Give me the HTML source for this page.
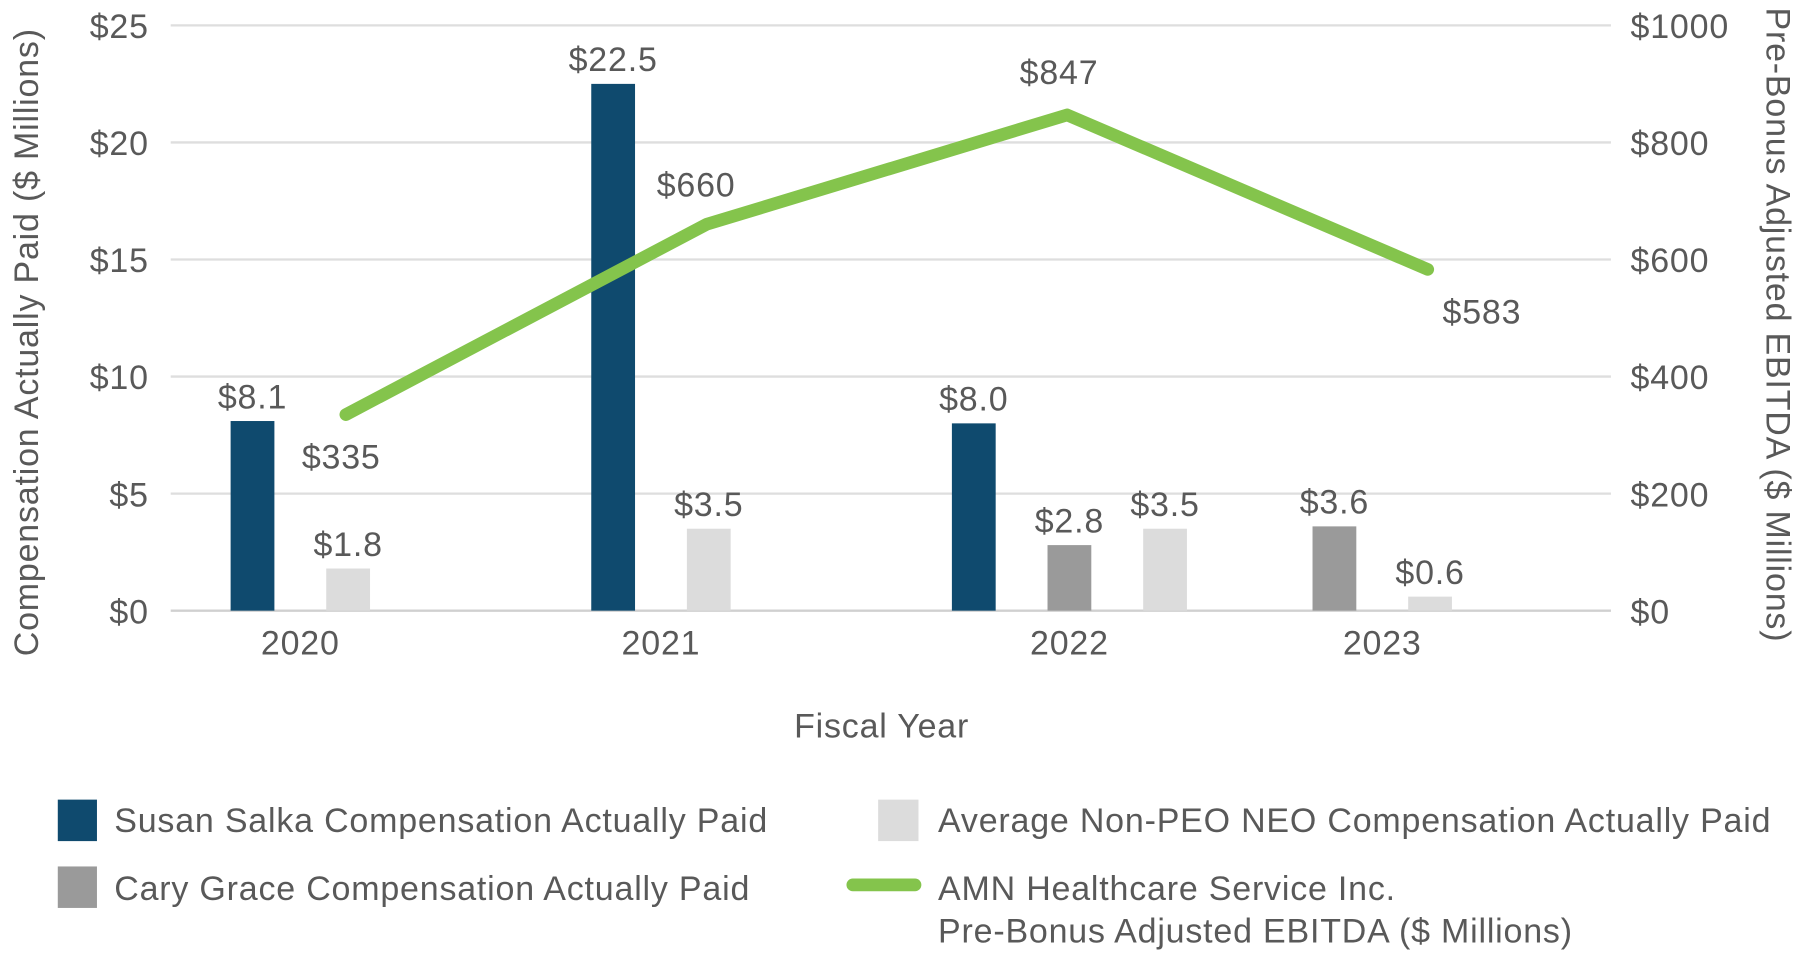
<!DOCTYPE html>
<html><head><meta charset="utf-8"><style>
html,body{margin:0;padding:0;background:#fff;}
svg{display:block;font-family:"Liberation Sans",sans-serif;}
text{fill:#595959;font-size:29.5px;letter-spacing:0.7px;}
</style></head><body>
<svg id="chart" width="1807" height="969" viewBox="0 0 1568 841" xmlns="http://www.w3.org/2000/svg">
<g id="grid"></g><g id="bars"></g><g id="line"></g><g id="labels"></g>
<text transform="translate(33,297) rotate(-90)" text-anchor="middle">Compensation Actually Paid ($ Millions)</text>
<text transform="translate(1533,282) rotate(90)" text-anchor="middle">Pre-Bonus Adjusted EBITDA ($ Millions)</text>
<text x="765" y="640" text-anchor="middle">Fiscal Year</text>
<g>
<rect x="50" y="694" width="34" height="36" fill="#0f4a6e"/>
<text x="99" y="722">Susan Salka Compensation Actually Paid</text>
<rect x="50" y="752" width="34" height="36" fill="#9a9a9a"/>
<text x="99" y="781">Cary Grace Compensation Actually Paid</text>
<rect x="762" y="694" width="35" height="36" fill="#dcdcdc"/>
<text x="814" y="722">Average Non-PEO NEO Compensation Actually Paid</text>
<line x1="740" y1="768" x2="794" y2="768" stroke="#84c44c" stroke-width="11" stroke-linecap="round"/>
<text x="814" y="781">AMN Healthcare Service Inc.</text>
<text x="814" y="818">Pre-Bonus Adjusted EBITDA ($ Millions)</text>
</g>
</svg>
<script>
const years = ["2020","2021","2022","2023"];
const salka = [8.1, 22.5, 8.0, null];
const grace = [null, null, 2.8, 3.6];
const neo = [1.8, 3.5, 3.5, 0.6];
const ebitda = [335, 660, 847, 583];
const leftTicks = [0,5,10,15,20,25];
const rightTicks = [0,200,400,600,800,1000];
const lineLabelDx = [-4,-9,-7,47];
const lineLabelDy = [47,-24,-27,47];

const NS="http://www.w3.org/2000/svg";
const X0=148,X1=1398,Y0=530,Y1=22;
const yL=v=>Y0-(v/25)*(Y0-Y1);
const yR=v=>Y0-(v/1000)*(Y0-Y1);
const cx=i=>300+313*i;
function mk(tag,attrs,parent,txt){const e=document.createElementNS(NS,tag);for(const k in attrs)e.setAttribute(k,attrs[k]);if(txt!==undefined)e.textContent=txt;document.getElementById(parent).appendChild(e);return e;}
leftTicks.forEach(t=>{
  const g=mk('line',{x1:X0,x2:X1,y1:yL(t),y2:yL(t),stroke:t===0?'#d0d0d0':'#dedede','stroke-width':2},'grid');
  
  
  const l=mk('text',{x:129,y:yL(t)+11,'text-anchor':'end'},'grid','$'+t);
  
  
});
rightTicks.forEach(t=>{
  const l=mk('text',{x:1415,y:yR(t)+11},'grid','$'+t);
  
  
});
const series=[[salka,'#0f4a6e','salka'],[grace,'#9a9a9a','grace'],[neo,'#dcdcdc','neo']];
years.forEach((yr,i)=>{
  let k=0;const centers=[];
  series.forEach(([arr,col,nm])=>{
    const v=arr[i]; if(v===null) return;
    const bc=cx(i)-81+83*k; k++; centers.push(bc);
    const r=mk('rect',{x:bc-19,y:yL(v),width:38,height:Y0-yL(v),fill:col},'bars');
    
    
    const t=mk('text',{x:bc,y:yL(v)-11,'text-anchor':'middle'},'labels','$'+v.toFixed(1));
    
    
  });
  const m=centers.reduce((a,b)=>a+b,0)/centers.length;
  const xl=mk('text',{x:m,y:568,'text-anchor':'middle'},'labels',yr);
  
  
});
const pts=ebitda.map((v,i)=>cx(i)+','+yR(v)).join(' ');
const pl=mk('polyline',{points:pts,fill:'none',stroke:'#84c44c','stroke-width':11,'stroke-linecap':'round','stroke-linejoin':'round'},'line');


ebitda.forEach((v,i)=>{
  const t=mk('text',{x:cx(i)+lineLabelDx[i],y:yR(v)+lineLabelDy[i],'text-anchor':'middle'},'labels','$'+v);
  
  
});
</script>
</body></html>
